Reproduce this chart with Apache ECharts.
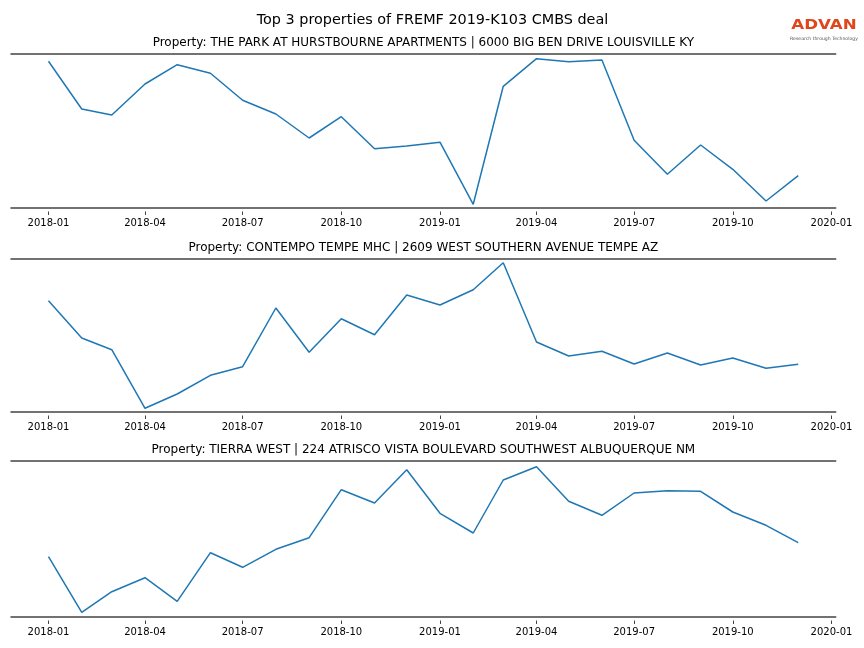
<!DOCTYPE html>
<html>
<head>
<meta charset="utf-8">
<script src="https://cdn.jsdelivr.net/npm/echarts@6/dist/echarts.min.js"></script>
<style>html,body{margin:0;padding:0;background:#fff;}#c{width:864px;height:648px;}</style>
</head>
<body>
<div id="c"></div>
<script>
// ---- data ----
var months = ['2018-01','2018-02','2018-03','2018-04','2018-05','2018-06','2018-07','2018-08','2018-09','2018-10','2018-11','2018-12',
              '2019-01','2019-02','2019-03','2019-04','2019-05','2019-06','2019-07','2019-08','2019-09','2019-10','2019-11','2019-12'];
var tickLabels = ['2018-01','2018-04','2018-07','2018-10','2019-01','2019-04','2019-07','2019-10','2020-01'];
var figTitle = 'Top 3 properties of FREMF 2019-K103 CMBS deal';
var titles = [
  'Property: THE PARK AT HURSTBOURNE APARTMENTS | 6000 BIG BEN DRIVE LOUISVILLE KY',
  'Property: CONTEMPO TEMPE MHC | 2609 WEST SOUTHERN AVENUE TEMPE AZ',
  'Property: TIERRA WEST | 224 ATRISCO VISTA BOULEVARD SOUTHWEST ALBUQUERQUE NM'
];
var park = [146.2, 98.5, 92.5, 123.5, 142.8, 134.2, 107.2, 93.5, 69.5, 90.8, 58.8, 61.5,
            65.3, 3.2, 121.2, 148.8, 145.8, 147.5, 67.2, 33.2, 62.5, 38.2, 6.5, 31.8];
var contempo = [110.8, 73.5, 61.8, 3.2, 17.5, 36.2, 44.8, 103.5, 59.2, 92.8, 76.8, 116.5,
                106.5, 121.8, 148.8, 69.5, 55.5, 60.2, 47.5, 58.5, 46.5, 53.5, 43.2, 47.2];
var tierra = [59.8, 4.2, 24.8, 38.8, 15.2, 63.8, 49.2, 67.2, 78.8, 126.8, 113.5, 146.8,
              103.2, 83.5, 136.5, 149.8, 115.2, 101.2, 123.5, 125.8, 125.2, 104.5, 91.2, 73.8];
var yLimits = [[0, 153.5], [0, 152.5], [0, 155.5]];
var seriesList = [park, contempo, tierra];

// ---- layout ----
var grids = [{top: 54, height: 153.5}, {top: 259, height: 152.5}, {top: 461, height: 155.5}];
var gLeft = 11, gRight = 28.3;

function ts(s) { var p = s.split('-'); return Date.UTC(+p[0], +p[1] - 1, 1); }
var t0 = ts(months[0]), t1 = ts(months[months.length - 1]);
var pad = 0.05 * (t1 - t0);
var xMin = t0 - pad, xMax = t1 + pad;
var tickVals = tickLabels.map(ts);
function fmt(v) {
  var d = new Date(v); var m = d.getUTCMonth() + 1;
  return d.getUTCFullYear() + '-' + (m < 10 ? '0' + m : m);
}

var chart = echarts.init(document.getElementById('c'));
var option = {
  backgroundColor: '#fff',
  animation: false,
  grid: [], xAxis: [], yAxis: [], series: [], graphic: []
};
var FONT = 'DejaVu Sans';
option.graphic.push({type: 'text', x: 432.5, y: 20, style: {text: figTitle, font: '14.4px "DejaVu Sans"', fill: '#000', textAlign: 'center', textVerticalAlign: 'middle'}});
grids.forEach(function (g, i) {
  option.grid.push({left: gLeft, right: gRight, top: g.top, height: g.height, containLabel: false});
  // bottom spine
  option.xAxis.push({
    type: 'value', gridIndex: i, min: xMin, max: xMax, position: 'bottom', scale: true,
    axisLine: {show: true, lineStyle: {color: '#444', width: 1.5}},
    axisTick: {show: false}, axisLabel: {show: false}, splitLine: {show: false}
  });
  // top spine
  option.xAxis.push({
    type: 'value', gridIndex: i, min: xMin, max: xMax, position: 'top', scale: true,
    axisLine: {show: true, lineStyle: {color: '#444', width: 1.5}},
    axisTick: {show: false}, axisLabel: {show: false}, splitLine: {show: false}
  });
  // ticks and labels (offset below the spine)
  option.xAxis.push({
    type: 'value', gridIndex: i, min: xMin, max: xMax, position: 'bottom', offset: 4, scale: true,
    axisLine: {show: false},
    axisTick: {show: true, customValues: tickVals, length: 3.5, lineStyle: {color: '#444', width: 1}},
    axisLabel: {show: true, customValues: tickVals, color: '#000', fontFamily: FONT, fontSize: 10, margin: 7,
      showMinLabel: true, showMaxLabel: true, hideOverlap: false, formatter: fmt},
    splitLine: {show: false}
  });
  option.yAxis.push({
    type: 'value', gridIndex: i, min: yLimits[i][0], max: yLimits[i][1],
    axisLine: {show: false}, axisTick: {show: false}, axisLabel: {show: false}, splitLine: {show: false}
  });
  option.series.push({
    type: 'line', xAxisIndex: i * 3, yAxisIndex: i, showSymbol: false, symbol: 'none',
    lineStyle: {color: '#1f77b4', width: 1.5}, itemStyle: {color: '#1f77b4'},
    data: months.map(function (m, k) { return [ts(m), seriesList[i][k]]; })
  });
  option.graphic.push({type: 'text', x: gLeft + (864 - gLeft - gRight) / 2, y: g.top - 11,
    style: {text: titles[i], font: '12px "DejaVu Sans"', fill: '#000', textAlign: 'center', textVerticalAlign: 'middle'}});
});
// logo
option.graphic.push({type: 'text', x: 824, y: 25.5, scaleX: 1.19, style: {text: 'ADVAN', font: 'bold 14px "DejaVu Sans"', fill: '#e0461c', textAlign: 'center', textVerticalAlign: 'middle'}});
option.graphic.push({type: 'text', x: 824, y: 38.3, style: {text: 'Research through Technology', font: '4.6px "DejaVu Sans"', fill: '#555', textAlign: 'center', textVerticalAlign: 'middle'}});
chart.setOption(option);
</script>
</body>
</html>
